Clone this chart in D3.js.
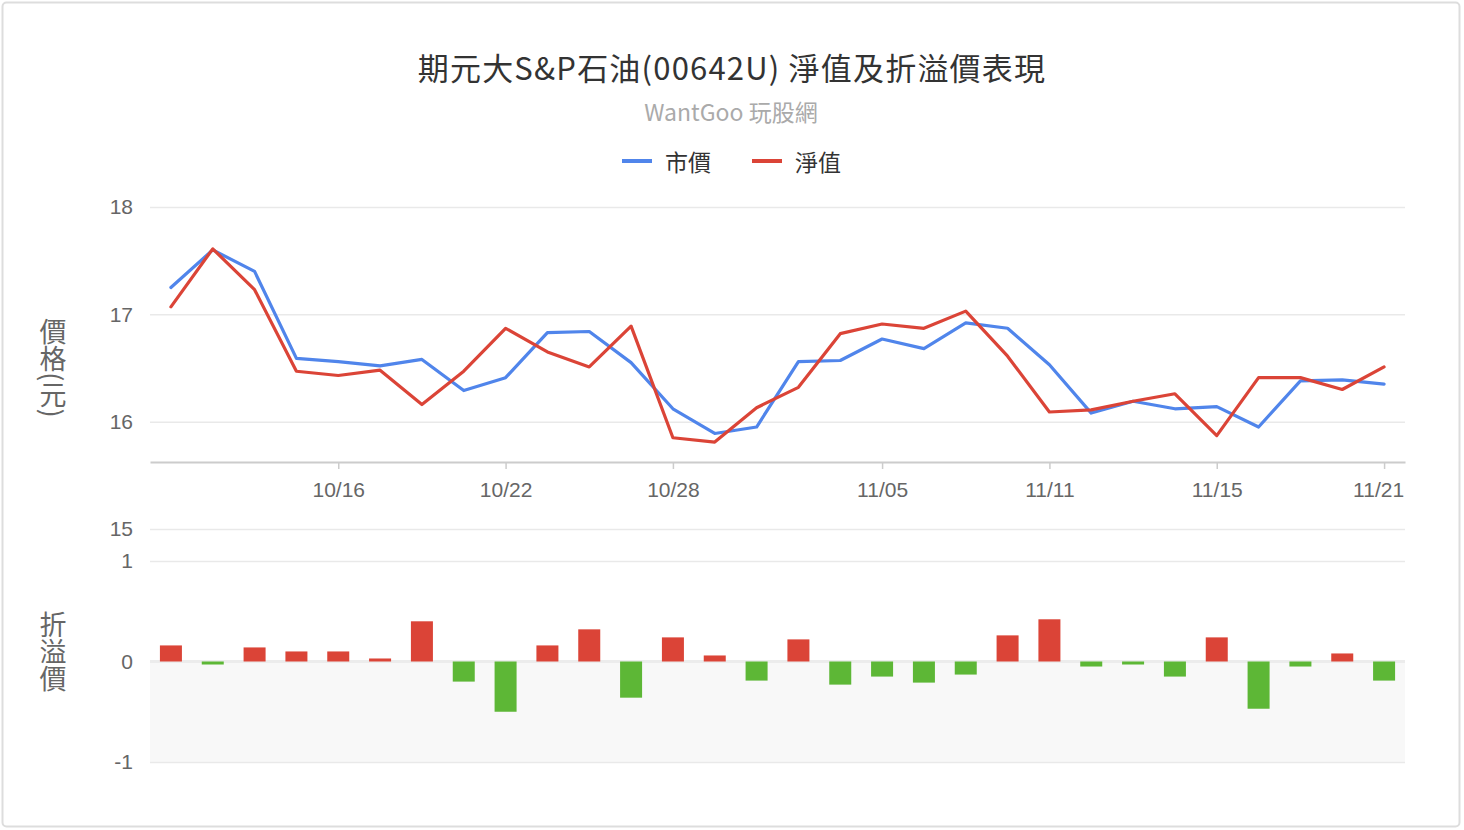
<!DOCTYPE html>
<html>
<head>
<meta charset="utf-8">
<script src="https://cdn.jsdelivr.net/npm/d3@7/dist/d3.min.js"></script>
<style>
  body { margin: 0; background: #fff; }
  text { font-family: "Noto Sans CJK TC", "Noto Sans", sans-serif; }
</style>
</head>
<body>
<div id="chart"></div>
<script>
  // trading days (10/10, 10/31 closed)
  var dates = ["10/09", "10/11", "10/14", "10/15", "10/16", "10/17", "10/18", "10/21", "10/22", "10/23",
               "10/24", "10/25", "10/28", "10/29", "10/30", "11/01", "11/04", "11/05", "11/06", "11/07",
               "11/08", "11/11", "11/12", "11/13", "11/14", "11/15", "11/18", "11/19", "11/20", "11/21"];
  // 市價
  var marketPrice = [17.25, 17.60, 17.40, 16.59, 16.56, 16.52, 16.58, 16.29, 16.41, 16.83,
                     16.84, 16.55, 16.12, 15.89, 15.95, 16.56, 16.57, 16.77, 16.68, 16.92,
                     16.87, 16.53, 16.08, 16.19, 16.12, 16.14, 15.95, 16.38, 16.39, 16.35];
  // 淨值
  var navPrice = [17.07, 17.61, 17.23, 16.47, 16.43, 16.48, 16.16, 16.47, 16.87, 16.65,
                  16.51, 16.89, 15.85, 15.81, 16.13, 16.32, 16.82, 16.91, 16.87, 17.03,
                  16.61, 16.09, 16.11, 16.19, 16.26, 15.87, 16.41, 16.41, 16.30, 16.51];
  // 折溢價
  var premium = [0.16, -0.03, 0.14, 0.10, 0.10, 0.03, 0.40, -0.20, -0.50, 0.16,
                 0.32, -0.36, 0.24, 0.06, -0.19, 0.22, -0.23, -0.15, -0.21, -0.13,
                 0.26, 0.42, -0.05, -0.03, -0.15, 0.24, -0.47, -0.05, 0.08, -0.19];

  var dateTicks = ["10/16", "10/22", "10/28", "11/05", "11/11", "11/15", "11/21"];
  var priceTicks = [15, 16, 17, 18];
  var premiumTicks = [-1, 0, 1];

  var width = 1464, height = 830;
  var left = 150, right = 1405;
  var topPaneBottom = 462;
  var numFont = "'Liberation Sans', Arial, sans-serif";

  var blue = "#5085eb", red = "#db4437", green = "#5db736";

  var svg = d3.select("#chart")
              .append("svg")
              .attr("width", width)
              .attr("height", height);

  // outer frame
  svg.append("rect")
     .attr("x", 2.5).attr("y", 2.5)
     .attr("width", width - 7).attr("height", height - 6)
     .attr("rx", 4)
     .attr("fill", "#fff")
     .attr("stroke", "#ddd")
     .attr("stroke-width", 2);

  // title
  svg.append("text")
     .attr("x", 732).attr("y", 66)
     .attr("text-anchor", "middle")
     .attr("dominant-baseline", "central")
     .attr("font-size", "31px")
     .attr("letter-spacing", "1.2px")
     .attr("fill", "#333")
     .text("期元大S&P石油(00642U) 淨值及折溢價表現");

  svg.append("text")
     .attr("x", 731).attr("y", 111)
     .attr("text-anchor", "middle")
     .attr("dominant-baseline", "central")
     .attr("font-size", "23px")
     .attr("fill", "#aaa")
     .text("WantGoo 玩股網");

  // legend
  var legendItems = [{ name: "市價", color: blue, x: 622 }, { name: "淨值", color: red, x: 752 }];
  var legend = svg.append("g").attr("class", "legend");
  legendItems.forEach(function(d) {
    legend.append("line")
          .attr("x1", d.x).attr("x2", d.x + 30)
          .attr("y1", 161).attr("y2", 161)
          .attr("stroke", d.color)
          .attr("stroke-width", 4);
    legend.append("text")
          .attr("x", d.x + 43).attr("y", 161)
          .attr("dominant-baseline", "central")
          .attr("font-size", "23px")
          .attr("fill", "#333")
          .text(d.name);
  });

  // scales
  var xScale = d3.scalePoint()
    .domain(dates)
    .range([left, right])
    .padding(0.5);

  var yTop = d3.scaleLinear()
    .domain([15, 18])
    .range([529, 207]);

  var yBot = d3.scaleLinear()
    .domain([-1, 1])
    .range([762, 561]);

  // negative zone shading
  svg.append("rect")
     .attr("x", left)
     .attr("y", yBot(0))
     .attr("width", right - left)
     .attr("height", yBot(-1) - yBot(0))
     .attr("fill", "#f8f8f8");

  // y axes with grid
  function styleAxis(g) {
    g.select(".domain").remove();
    g.selectAll(".tick line").attr("stroke", "#e9e9e9").attr("stroke-width", 1.5);
    g.selectAll(".tick text")
     .attr("fill", "#666")
     .attr("font-size", "21px")
     .style("font-family", numFont);
  }

  var plainNum = function(d) { return String(d); };

  svg.append("g")
     .attr("transform", "translate(" + left + ",0)")
     .call(d3.axisLeft(yTop).tickValues(priceTicks).tickFormat(plainNum)
             .tickSize(-(right - left)).tickPadding(17))
     .call(styleAxis);

  svg.append("g")
     .attr("transform", "translate(" + left + ",0)")
     .call(d3.axisLeft(yBot).tickValues(premiumTicks).tickFormat(plainNum)
             .tickSize(-(right - left)).tickPadding(17))
     .call(styleAxis);

  // zero line a bit stronger
  svg.append("line")
     .attr("x1", left).attr("x2", right)
     .attr("y1", yBot(0)).attr("y2", yBot(0))
     .attr("stroke", "#ececec")
     .attr("stroke-width", 3);

  // x axis
  var axisx = d3.axisBottom(xScale)
    .tickValues(dateTicks)
    .tickSizeInner(7)
    .tickSizeOuter(0)
    .tickPadding(13);

  var gx = svg.append("g")
     .attr("transform", "translate(0," + topPaneBottom + ")")
     .call(axisx);
  gx.select(".domain").attr("stroke", "#ccc").attr("stroke-width", 2);
  gx.selectAll(".tick line").attr("stroke", "#ccc").attr("stroke-width", 1.5);
  gx.selectAll(".tick text")
    .attr("fill", "#666")
    .attr("font-size", "21px")
    .style("font-family", numFont)
    .attr("dx", function(d) { return d == "11/21" ? "-6" : "0"; });

  // y titles (vertical)
  var yTitles = [{ text: "價格(元)", y: 368 }, { text: "折溢價", y: 652 }];
  svg.selectAll(".ytitle")
     .data(yTitles)
     .enter()
     .append("text")
     .attr("class", "ytitle")
     .attr("x", 53)
     .attr("y", function(d) { return d.y; })
     .attr("text-anchor", "middle")
     .style("writing-mode", "vertical-rl")
     .attr("font-size", "27px")
     .attr("fill", "#666")
     .text(function(d) { return d.text; });

  // lines
  var line = d3.line()
    .x(function(d, i) { return xScale(dates[i]); })
    .y(function(d) { return yTop(d); });

  var series = [{ values: marketPrice, color: blue }, { values: navPrice, color: red }];
  svg.append("g").attr("class", "lines")
     .selectAll("path")
     .data(series)
     .enter()
     .append("path")
     .attr("d", function(d) { return line(d.values); })
     .attr("fill", "none")
     .attr("stroke", function(d) { return d.color; })
     .attr("stroke-width", 3.2)
     .attr("stroke-linejoin", "round")
     .attr("stroke-linecap", "round");

  // premium bars
  var barWidth = 22;
  svg.append("g").attr("class", "bars")
     .selectAll("rect")
     .data(premium)
     .enter()
     .append("rect")
     .attr("x", function(d, i) { return xScale(dates[i]) - barWidth / 2; })
     .attr("y", function(d) { return d >= 0 ? yBot(d) : yBot(0); })
     .attr("width", barWidth)
     .attr("height", function(d) { return Math.abs(yBot(d) - yBot(0)); })
     .attr("fill", function(d) { return d >= 0 ? red : green; });
</script>
</body>
</html>
